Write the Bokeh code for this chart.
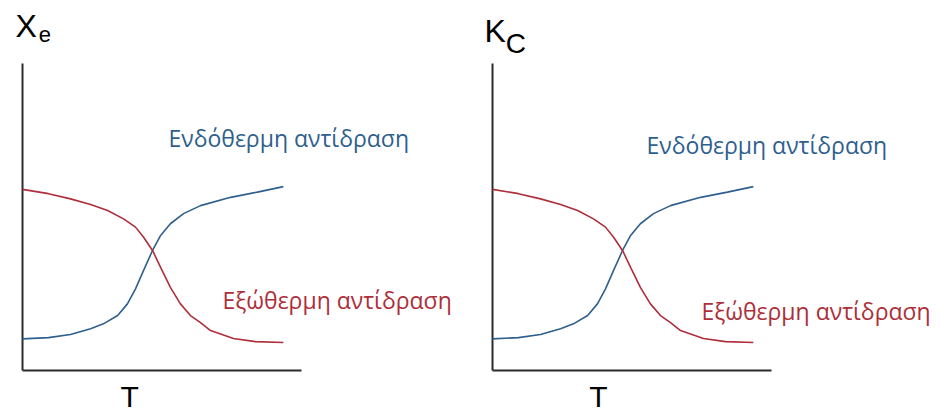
from bokeh.plotting import figure
from bokeh.layouts import row
from bokeh.models import Range1d, Label
from bokeh.embed import file_html
from bokeh.resources import INLINE

# Endothermic reaction: rises with temperature (S-shaped)
endo_T = [0, 0.93, 1.72, 2.44, 2.90, 3.41, 3.76, 4.05, 4.34, 4.66, 4.95, 5.30, 5.77, 6.38, 7.46, 8.42, 9.35]
endo_y = [1.03, 1.07, 1.17, 1.36, 1.52, 1.79, 2.17, 2.66, 3.26, 3.91, 4.40, 4.78, 5.11, 5.37, 5.64, 5.81, 5.99]

# Exothermic reaction: falls with temperature
exo_T = [0, 0.93, 1.72, 2.44, 3.05, 3.62, 4.05, 4.34, 4.66, 4.95, 5.30, 5.66, 6.02, 6.38, 6.74, 7.56, 8.35, 9.35]
exo_y = [5.90, 5.76, 5.59, 5.41, 5.21, 4.94, 4.67, 4.34, 3.91, 3.36, 2.71, 2.17, 1.79, 1.56, 1.30, 1.04, 0.94, 0.91]

endo_label = "Ενδόθερμη αντίδραση"
exo_label = "Εξώθερμη αντίδραση"
x_title = "T"

# axis extent in data units
T_MAX = 10
Y_MAX = 10

BLUE = "#2E5F8E"
RED = "#AE2E3A"
AXIS = "#2b2b2b"
LABEL_FONT = "Open Sans"
TITLE_FONT = "Liberation Sans"


def panel(main, sub, main_x, main_y, sub_x, sub_y, sub_size, endo_pos, exo_pos, t_x):
    # the frame fills the whole figure so texts outside the axes stay visible
    p = figure(width=470, height=408, output_backend="svg", toolbar_location=None,
               x_range=Range1d(-0.789, 16.057), y_range=Range1d(-1.238, 12.052),
               min_border=0)
    p.axis.visible = False
    p.outline_line_color = None
    p.grid.visible = False
    p.background_fill_color = "white"
    p.border_fill_color = "white"

    # axes drawn as plain lines from the origin
    p.segment(x0=[0, 0], y0=[0, 0], x1=[T_MAX, 0], y1=[0, Y_MAX],
              line_color=AXIS, line_width=2)

    p.line(endo_T, endo_y, line_color=BLUE, line_width=1.6)
    p.line(exo_T, exo_y, line_color=RED, line_width=1.6)

    p.add_layout(Label(x=endo_pos[0], y=endo_pos[1], text=endo_label,
                       text_color=BLUE, text_font=LABEL_FONT, text_font_size="23px",
                       text_baseline="middle"))
    p.add_layout(Label(x=exo_pos[0], y=exo_pos[1], text=exo_label,
                       text_color=RED, text_font=LABEL_FONT, text_font_size="23px",
                       text_baseline="middle"))

    # quantity on the vertical axis, with its subscript
    p.add_layout(Label(x=main_x, y=main_y, text=main, text_color="black",
                       text_font=TITLE_FONT, text_font_size="32px",
                       text_baseline="top"))
    p.add_layout(Label(x=sub_x, y=sub_y, text=sub, text_color="black",
                       text_font=TITLE_FONT, text_font_size=sub_size,
                       text_baseline="top"))

    # temperature under the horizontal axis
    p.add_layout(Label(x=t_x, y=-0.30, text=x_title, text_color="black",
                       text_font=TITLE_FONT, text_font_size="30px",
                       text_align="center", text_baseline="top"))
    return p


left = panel("X", "e", -0.25, 11.80, 0.58, 11.18, "22px", (5.23, 7.56), (7.17, 2.28), 3.84)
right = panel("K", "C", -0.29, 11.66, 0.47, 11.16, "28px", (5.52, 7.33), (7.49, 1.95), 3.80)

layout = row(left, right, spacing=0)
open("out.html", "w").write(file_html(layout, INLINE))
